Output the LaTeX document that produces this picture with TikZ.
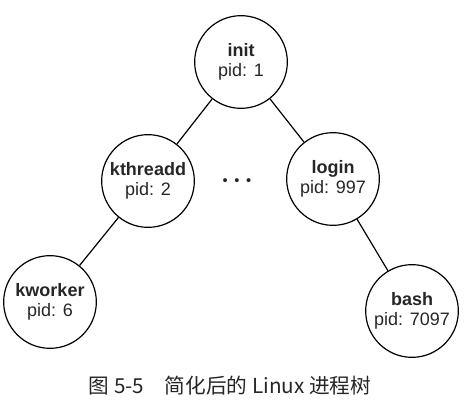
\documentclass[tikz,border=0pt]{standalone}
\usepackage{fontspec}
\setmainfont{Liberation Sans}
\newfontfamily\cjk{Noto Sans CJK SC}
\usepackage{tikz}

\begin{document}
\begin{tikzpicture}[x=0.75pt, y=-0.75pt,
        proc/.style={shape=circle, draw=black, line width=0.9pt, minimum size=69.5pt, inner sep=0pt, align=center, font=\fontsize{13.5}{15.5}\selectfont, text=black!85},
        link/.style={line width=0.9pt}]
        \useasboundingbox (0,0) rectangle (466,409);
        \node[proc] (init) at (241,62) {\textbf{init}\\pid: 1};
        \node[proc] (kthreadd) at (148,181) {\textbf{kthreadd}\\pid: 2};
        \node[proc] (login) at (333,179) {\textbf{login}\\pid: 997};
        \node[proc] (kworker) at (50,302) {\textbf{kworker}\\pid: 6};
        \node[proc] (bash) at (412,311) {\textbf{bash}\\pid: 7097};
        \node[font=\fontsize{11}{11}\selectfont, text=black!85] (dots) at (237,182) {•\hspace{5pt}•\hspace{5pt}•};
        \draw[link] (init) -- (kthreadd);
        \draw[link] (init) -- (login);
        \draw[link] (kthreadd) -- (kworker);
        \draw[link] (login) -- (bash);
        \node[font=\cjk\fontsize{15.5}{17}\selectfont, text=black!85] (caption) at (230,386) {图 5-5\quad 简化后的 Linux 进程树};
    \end{tikzpicture}
\end{document}
